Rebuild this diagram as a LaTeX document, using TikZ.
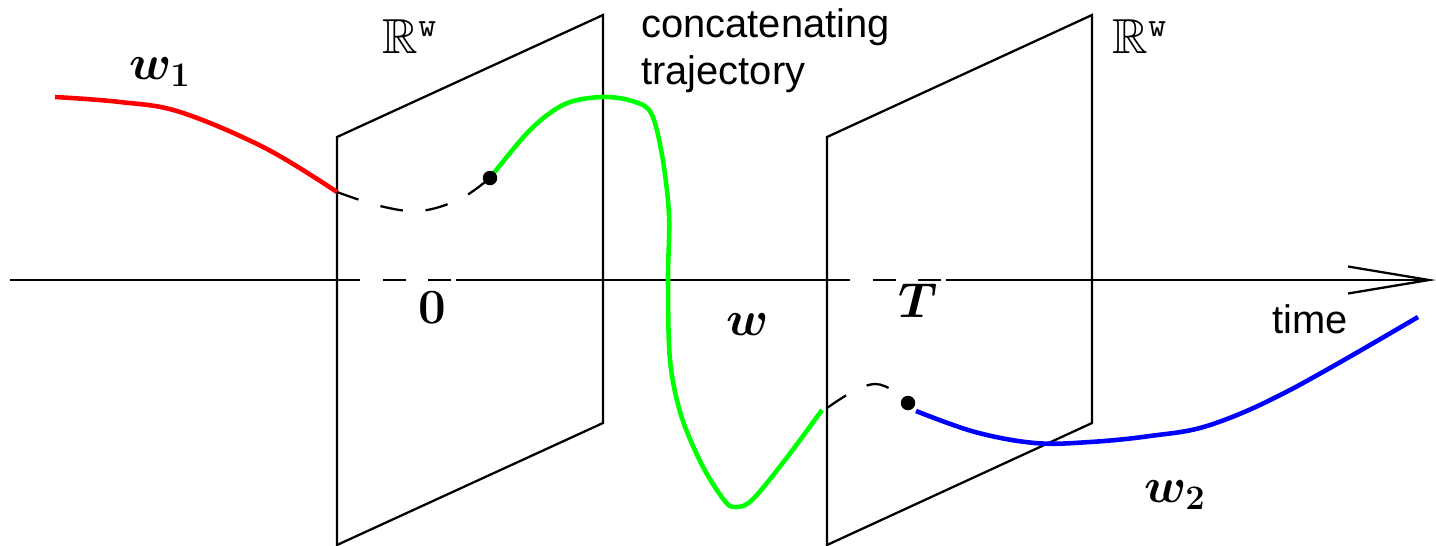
\RequirePackage{fix-cm}
\documentclass[tikz,border=0pt]{standalone}
\usepackage{amsmath,amssymb}
\usepackage{fontspec}
\newfontfamily\hv{Liberation Sans}
\usetikzlibrary{arrows.meta}
\begin{document}
\begin{tikzpicture}[x=0.02cm,y=-0.02cm,
  plane/.style={draw=black,line width=1.3pt,line join=miter},
  axisline/.style={draw=black,line width=1.3pt},
  hid/.style={draw=black,line width=1.3pt,dash pattern=on 13pt off 13pt},
  traj/.style={line width=2.6pt,line cap=butt},
  dot/.style={circle,fill=black,inner sep=0pt,minimum size=0.29cm},
  mathlbl/.style={font=\fontsize{28}{34}\selectfont,inner sep=0pt},
  sanslbl/.style={font=\hv\fontsize{22.7}{26.7}\selectfont,inner sep=0pt}]
\useasboundingbox (0,0) rectangle (1436,545);
% planes
\draw[plane] (337,137) -- (603,15) -- (603,423) -- (337,545) -- cycle;
\draw[plane] (827,137) -- (1092,15) -- (1092,423) -- (827,545) -- cycle;
% time axis
\coordinate (a0) at (10,280);
\coordinate (a1) at (337,280);
\coordinate (a2) at (456,280);
\coordinate (a3) at (827,280);
\coordinate (a4) at (946,280);
\coordinate (a5) at (1436,280);
\draw[axisline] (a0) -- (a1);
\draw[hid] (a1) -- (a2);
\draw[axisline] (a2) -- (a3);
\draw[hid] (a3) -- (a4);
\draw[axisline,-{Straight Barb[length=1.62cm,width=0.54cm,line width=1.3pt]}] (a4) -- (a5);
% trajectories
\draw[traj,red] plot[smooth,tension=0.6] coordinates {(55,97) (120,102) (180,112) (265,148) (337,192)};
\draw[hid] plot[smooth,tension=0.6] coordinates {(337,192) (380,206) (420,211) (460,199) (490,178)};
\draw[traj,green] plot[smooth,tension=0.55] coordinates {(490,178) (530,130) (565,104) (602,97) (632,101) (651,113) (662,155) (669,215) (668,280) (670,360) (681,415) (702,465) (724,500) (735,507) (752,500) (785,460) (822,410)};
\draw[hid] plot[smooth,tension=0.6] coordinates {(827,408) (852,392) (875,384) (894,391) (908,403)};
\draw[traj,blue] plot[smooth,tension=0.6] coordinates {(916,411) (975,432) (1035,443) (1090,442) (1150,436) (1210,425) (1290,390) (1418,317)};
\node[dot] (p0) at (490,178) {};
\node[dot] (pT) at (908,403) {};
% labels
\node[mathlbl] (w1) at (160,72) {$\boldsymbol{w_1}$};
\node[mathlbl] (R1) at (410,37) {$\mathbb{R}^{\mathtt{w}}$};
\node[mathlbl] (R2) at (1140,37) {$\mathbb{R}^{\mathtt{w}}$};
\node[sanslbl,anchor=base west,align=left] (ct) at (641,84) {concatenating\\trajectory};
\node[mathlbl,anchor=base] (zero) at (432,323) {$\boldsymbol{0}$};
\node[mathlbl,anchor=base] (T) at (918,317) {$\boldsymbol{T}$};
\node[mathlbl] (w) at (748,325) {$\boldsymbol{w}$};
\node[sanslbl,anchor=base] (time) at (1310,333) {time};
\node[mathlbl] (w2) at (1175,495) {$\boldsymbol{w_2}$};
\end{tikzpicture}
\end{document}
